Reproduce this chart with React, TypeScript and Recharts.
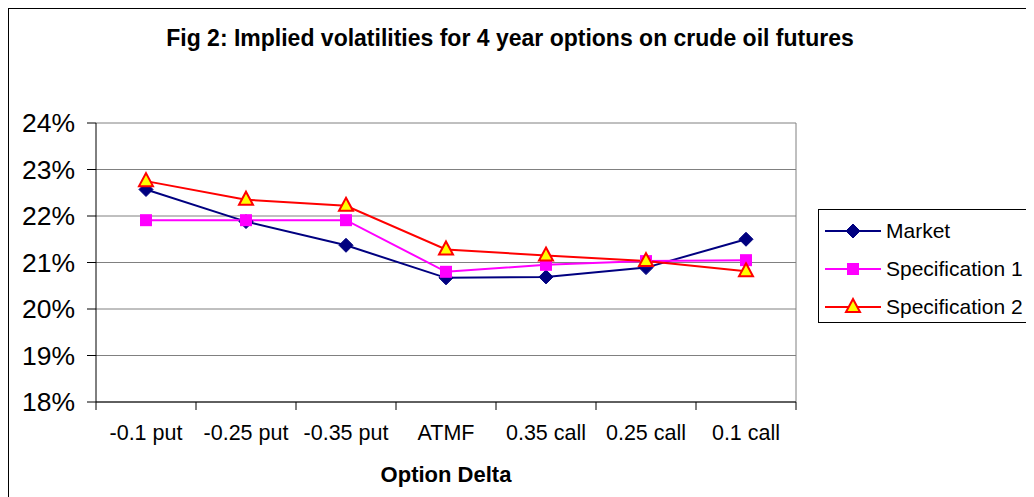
import { LineChart, Line, XAxis, YAxis, CartesianGrid, Legend } from "recharts";

const categories = ["-0.1 put", "-0.25 put", "-0.35 put", "ATMF", "0.35 call", "0.25 call", "0.1 call"];
const market = [22.57, 21.88, 21.37, 20.67, 20.69, 20.89, 21.5];
const spec1 = [21.91, 21.91, 21.91, 20.8, 20.95, 21.03, 21.05];
const spec2 = [22.75, 22.35, 22.22, 21.28, 21.15, 21.03, 20.81];
const yTicks = [18, 19, 20, 21, 22, 23, 24];

const data = categories.map((name, i) => ({
  name,
  market: market[i],
  spec1: spec1[i],
  spec2: spec2[i],
}));

const FONT = "'Liberation Sans', Arial, sans-serif";
const PLOT_W = 700;
const HALF_BAND = PLOT_W / categories.length / 2;

const Diamond = ({ cx, cy }: any) => (
  <polygon
    points={`${cx},${cy - 7} ${cx + 7},${cy} ${cx},${cy + 7} ${cx - 7},${cy}`}
    fill="#000080"
    stroke="#000080"
  />
);

const Square = ({ cx, cy }: any) => (
  <rect x={cx - 6} y={cy - 6} width={12} height={12} fill="#ff00ff" />
);

const Triangle = ({ cx, cy }: any) => (
  <polygon
    points={`${cx},${cy - 8} ${cx + 7},${cy + 5} ${cx - 7},${cy + 5}`}
    fill="#ffff00"
    stroke="#ff0000"
    strokeWidth={2}
  />
);

const series = [
  { key: "market", name: "Market", color: "#000080", Shape: Diamond },
  { key: "spec1", name: "Specification 1", color: "#ff00ff", Shape: Square },
  { key: "spec2", name: "Specification 2", color: "#ff0000", Shape: Triangle },
];

const CatTick = (props: any) => {
  const { x, y, payload, index } = props;
  const axisY = y - 8;
  return (
    <g>
      {index === 0 && (
        <line x1={x - HALF_BAND} x2={x - HALF_BAND} y1={axisY} y2={axisY + 8} stroke="#000" />
      )}
      <line x1={x + HALF_BAND} x2={x + HALF_BAND} y1={axisY} y2={axisY + 8} stroke="#000" />
      <text x={x} y={axisY + 38} textAnchor="middle" fontSize={21.5} fill="#000" fontFamily={FONT}>
        {payload.value}
      </text>
    </g>
  );
};

const LegendBox = () => (
  <div
    style={{
      border: "1px solid #000",
      background: "#fff",
      width: 215,
      height: 114,
      boxSizing: "border-box",
      paddingTop: 2,
    }}
  >
    {series.map((s) => (
      <div key={s.key} style={{ display: "flex", alignItems: "center", height: 38 }}>
        <svg width={70} height={20} style={{ marginLeft: 6 }}>
          <line x1={0} x2={56} y1={10} y2={10} stroke={s.color} strokeWidth={2} />
          <s.Shape cx={28} cy={10} />
        </svg>
        <span style={{ fontSize: 21, fontFamily: FONT, color: "#000", marginLeft: -9, whiteSpace: "nowrap" }}>
          {s.name}
        </span>
      </div>
    ))}
  </div>
);

export default function App() {
  return (
    <div>
      <style>{"html,body{overflow:hidden;}"}</style>
      <div
        style={{
          position: "relative",
          width: 1040,
          height: 500,
          border: "1px solid #000",
          boxSizing: "border-box",
          background: "#fff",
          fontFamily: FONT,
        }}
      >
        <div
          style={{
            position: "absolute",
            left: 0,
            top: 18,
            width: 1002,
            textAlign: "center",
            fontSize: 23,
            lineHeight: "23px",
            fontWeight: "bold",
            color: "#000",
          }}
        >
          Fig 2: Implied volatilities for 4 year options on crude oil futures
        </div>
        <LineChart
          width={1030}
          height={490}
          data={data}
          margin={{ top: 114, right: 243, bottom: 0, left: 0 }}
        >
          <CartesianGrid
            stroke="#808080"
            verticalCoordinatesGenerator={({ offset }: any) => [offset.left + offset.width]}
          />
          <XAxis
            dataKey="name"
            scale="band"
            height={97}
            axisLine={{ stroke: "#000" }}
            tickLine={false}
            tickSize={8}
            tickMargin={0}
            tick={<CatTick />}
            interval={0}
            label={{
              value: "Option Delta",
              position: "insideBottom",
              offset: 17,
              fontSize: 22,
              fontWeight: "bold",
              fill: "#000",
              fontFamily: FONT,
            }}
          />
          <YAxis
            width={87}
            domain={[18, 24]}
            ticks={yTicks}
            interval={0}
            tickFormatter={(v: number) => `${v}%`}
            axisLine={{ stroke: "#000" }}
            tickLine={{ stroke: "#000" }}
            tickSize={9}
            tickMargin={12}
            tick={{ fontSize: 26.5, fill: "#000", fontFamily: FONT }}
          />
          <Legend
            layout="vertical"
            align="center"
            verticalAlign="middle"
            content={<LegendBox />}
            wrapperStyle={{ left: 809, top: 200, width: 216 }}
          />
          {series.map((s) => (
            <Line
              key={s.key}
              type="linear"
              dataKey={s.key}
              name={s.name}
              stroke={s.color}
              strokeWidth={2}
              isAnimationActive={false}
              activeDot={false}
              dot={(p: any) => <s.Shape key={`${s.key}-${p.index}`} cx={p.cx} cy={p.cy} />}
            />
          ))}
        </LineChart>
      </div>
    </div>
  );
}
